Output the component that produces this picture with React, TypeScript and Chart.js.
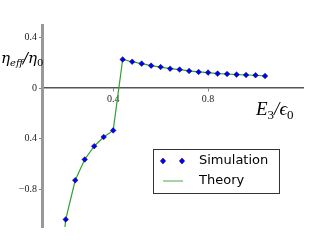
import React, { useEffect, useRef } from "react";
import { Chart, registerables } from "chart.js";

Chart.register(...registerables);

const eRatio = [0.2, 0.24, 0.28, 0.32, 0.36, 0.4, 0.44, 0.48, 0.52, 0.56, 0.6, 0.64, 0.68, 0.72, 0.76, 0.8, 0.84, 0.88, 0.92, 0.96, 1.0, 1.04];
const simulation = [-1.04, -0.73, -0.565, -0.46, -0.387, -0.335, 0.227, 0.209, 0.194, 0.178, 0.167, 0.154, 0.147, 0.136, 0.128, 0.123, 0.115, 0.112, 0.107, 0.104, 0.102, 0.096];
const theoryX = [0.19, 0.2, 0.24, 0.28, 0.32, 0.36, 0.4, 0.44, 0.48, 0.52, 0.56, 0.6, 0.64, 0.68, 0.72, 0.76, 0.8, 0.84, 0.88, 0.92, 0.96, 1.0, 1.04];
const theoryY = [-1.22, -1.04, -0.73, -0.565, -0.46, -0.387, -0.335, 0.227, 0.209, 0.194, 0.178, 0.167, 0.154, 0.147, 0.136, 0.128, 0.123, 0.115, 0.112, 0.107, 0.104, 0.102, 0.096];
const xTicks = [0.4, 0.8];
const yTicks = [-0.8, -0.4, 0, 0.4];
const yTickLabels = ["\u22120.8", "0.4", "0", "0.4"];
const legendLabels = ["Simulation", "Theory"];

const MARKER = "#0000ff";
const LINE = "rgb(50,160,50)";

const overlay = {
  id: "overlay",
  afterDraw(chart: any) {
    const ctx = chart.ctx;
    ctx.save();
    const big = "italic 15px 'DejaVu Serif', serif";
    const small = "italic 10px 'DejaVu Serif', serif";
    let x = 1;
    const yb = 63;
    const parts: [string, string, number][] = [
      ["\u03b7", big, 0],
      ["eff", small, 3],
      ["/\u03b7", big, 0],
      ["0", "10px 'DejaVu Serif', serif", 3],
    ];
    ctx.fillStyle = "#000";
    ctx.textBaseline = "alphabetic";
    ctx.textAlign = "left";
    for (const [t, f, dy] of parts) {
      ctx.font = f;
      ctx.fillText(t, x, yb + dy);
      x += ctx.measureText(t).width;
    }
    const xparts: [string, string, number][] = [
      ["E", "italic 19px 'Liberation Serif', serif", 0],
      ["3", "13px 'Liberation Serif', serif", 4],
      ["/\u03f5", "italic 19px 'Liberation Serif', serif", 0],
      ["0", "13px 'Liberation Serif', serif", 4],
    ];
    x = 256;
    for (const [t, f, dy] of xparts) {
      ctx.font = f;
      ctx.fillText(t, x, 115 + dy);
      x += ctx.measureText(t).width;
    }
    ctx.fillStyle = "#fff";
    ctx.fillRect(153.5, 149.5, 126, 44);
    ctx.strokeStyle = "#333";
    ctx.lineWidth = 1;
    ctx.strokeRect(153.5, 149.5, 126, 44);
    const drawDiamond = (cx: number, cy: number) => {
      ctx.beginPath();
      ctx.moveTo(cx, cy - 3);
      ctx.lineTo(cx + 2.7, cy);
      ctx.lineTo(cx, cy + 3);
      ctx.lineTo(cx - 2.7, cy);
      ctx.closePath();
      ctx.fillStyle = MARKER;
      ctx.fill();
      ctx.strokeStyle = "#000033";
      ctx.lineWidth = 0.5;
      ctx.stroke();
    };
    drawDiamond(163, 161);
    drawDiamond(182, 161);
    ctx.strokeStyle = "rgba(40,150,40,0.55)";
    ctx.lineWidth = 1.5;
    ctx.beginPath();
    ctx.moveTo(163, 181);
    ctx.lineTo(183, 181);
    ctx.stroke();
    ctx.fillStyle = "#000";
    ctx.font = "13px 'DejaVu Sans', sans-serif";
    ctx.textBaseline = "middle";
    ctx.fillText(legendLabels[0], 199, 161);
    ctx.fillText(legendLabels[1], 199, 181);
    ctx.restore();
  },
};

export default function App() {
  const ref = useRef<HTMLCanvasElement | null>(null);
  useEffect(() => {
    if (!ref.current) return;
    const chart = new Chart(ref.current, {
      type: "scatter",
      data: {
        datasets: [
          {
            label: legendLabels[0],
            data: eRatio.map((v, i) => ({ x: v, y: simulation[i] })),
            pointStyle: "rectRot",
            pointRadius: 2.8,
            backgroundColor: MARKER,
            borderColor: "#000033",
            borderWidth: 0.5,
            showLine: false,
            order: 1,
          },
          {
            label: legendLabels[1],
            data: theoryX.map((v, i) => ({ x: v, y: theoryY[i] })),
            showLine: true,
            borderColor: LINE,
            borderWidth: 1.2,
            pointRadius: 0,
            order: 2,
          },
        ],
      },
      options: {
        responsive: false,
        animation: false,
        layout: { padding: { top: 25, right: 33, bottom: 25, left: 0 } },
        plugins: { legend: { display: false }, tooltip: { enabled: false } },
        scales: {
          x: {
            type: "linear",
            position: { y: 0 } as any,
            min: 0.1,
            max: 1.2,
            afterBuildTicks: (s: any) => {
              s.ticks = xTicks.map((v) => ({ value: v }));
            },
            afterFit: (s: any) => {
              s.height = 0;
            },
            ticks: {
              color: "#222",
              font: { family: "'Liberation Serif', serif", size: 10 },
              padding: 2,
              callback: (v: any) => String(v),
            },
            grid: { display: true, drawOnChartArea: false, tickLength: 3, color: "#888" },
            border: { color: "#555", width: 1.5 },
          },
          y: {
            type: "linear",
            position: "left",
            min: -1.1,
            max: 0.5,
            afterBuildTicks: (s: any) => {
              s.ticks = yTicks.map((v) => ({ value: v }));
            },
            afterFit: (s: any) => {
              s.width = 42;
            },
            ticks: {
              color: "#222",
              font: { family: "'Liberation Serif', serif", size: 10 },
              padding: 2,
              callback: (v: any) => {
                const i = yTicks.indexOf(Number(v));
                return i >= 0 ? yTickLabels[i] : "";
              },
            },
            grid: { display: true, drawOnChartArea: false, tickLength: 3, color: "#888" },
            border: { color: "#999", width: 3 },
          },
        },
      },
      plugins: [overlay],
    });
    return () => chart.destroy();
  }, []);
  return (
    <div style={{ position: "fixed", left: 0, top: 0, width: 336, height: 252, background: "#fff" }}>
      <canvas ref={ref} width={336} height={252} />
    </div>
  );
}
